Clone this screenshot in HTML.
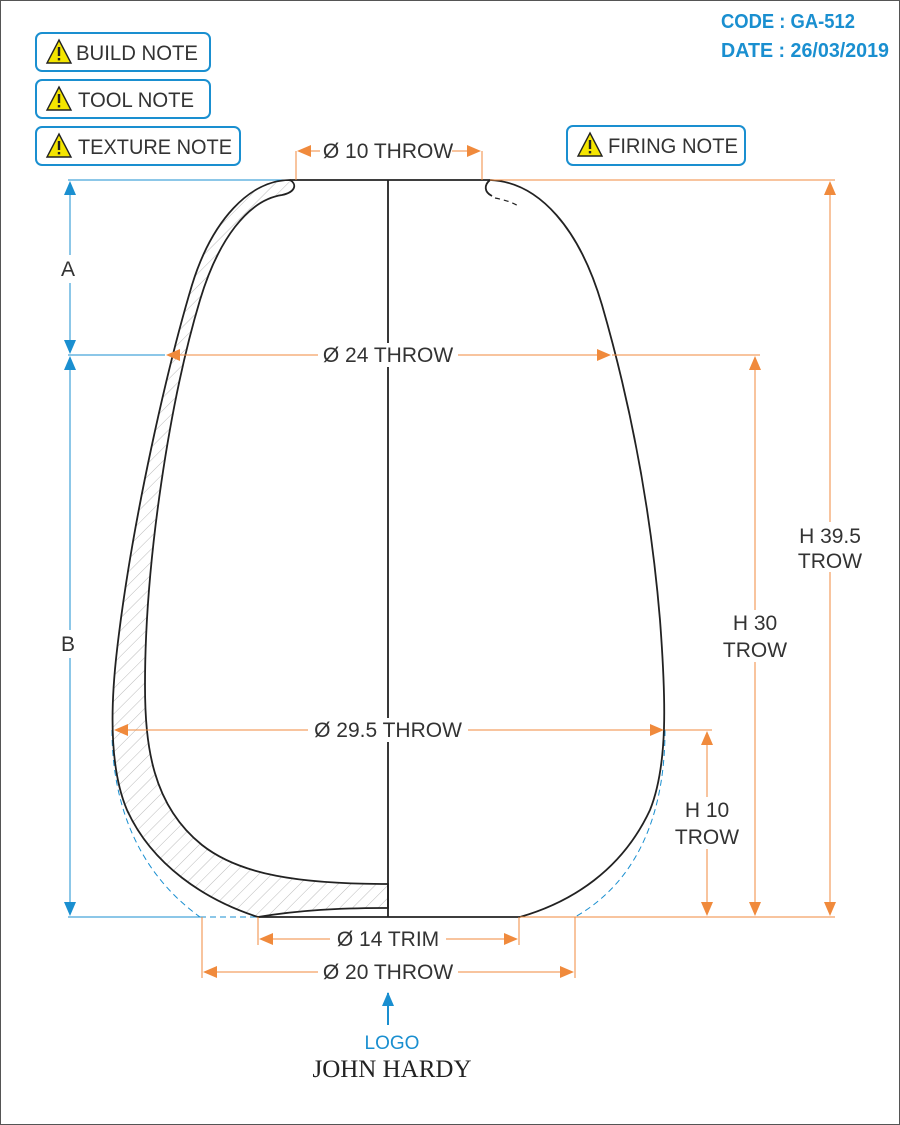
<!DOCTYPE html>
<html><head><meta charset="utf-8"><style>
html,body{margin:0;padding:0;background:#fff}
svg{display:block}
text{font-family:"Liberation Sans",sans-serif}
</style></head><body>
<svg width="900" height="1125" viewBox="0 0 900 1125">
<defs>
<pattern id="hatch" width="9" height="9" patternUnits="userSpaceOnUse" patternTransform="rotate(45)">
<line x1="0" y1="0" x2="0" y2="9" stroke="#aaa" stroke-width="0.8"/>
</pattern>
<marker id="ao" markerWidth="14" markerHeight="12" refX="13" refY="6" orient="auto-start-reverse" markerUnits="userSpaceOnUse"><path d="M0,0 L14,6 L0,12 Z" fill="#f08a3c"/></marker>
<marker id="ab" markerWidth="14" markerHeight="12" refX="13" refY="6" orient="auto-start-reverse" markerUnits="userSpaceOnUse"><path d="M0,0 L14,6 L0,12 Z" fill="#1a8fd0"/></marker>
<g id="warn"><path d="M12,0 L24,23 L0,23 Z" fill="#f4e500" stroke="#222" stroke-width="1.4"/><rect x="10.8" y="7" width="2.4" height="9" fill="#222"/><rect x="10.8" y="18" width="2.4" height="2.4" fill="#222"/></g>
</defs>
<rect x="0.5" y="0.5" width="899" height="1124" fill="#fff" stroke="#555" stroke-width="1"/>

<g fill="#1a8fd0" font-weight="bold" font-size="20">
<text x="721" y="28" textLength="134" lengthAdjust="spacingAndGlyphs">CODE : GA-512</text>
<text x="721" y="57" textLength="168" lengthAdjust="spacingAndGlyphs">DATE : 26/03/2019</text>
</g>

<g font-size="21" fill="#333">
<g><rect x="36" y="33" width="174" height="38" rx="6" fill="#fff" stroke="#1a8fd0" stroke-width="2"/><use href="#warn" x="47" y="40"/><text x="76" y="60" textLength="122" lengthAdjust="spacingAndGlyphs">BUILD NOTE</text></g>
<g><rect x="36" y="80" width="174" height="38" rx="6" fill="#fff" stroke="#1a8fd0" stroke-width="2"/><use href="#warn" x="47" y="87"/><text x="78" y="107" textLength="116" lengthAdjust="spacingAndGlyphs">TOOL NOTE</text></g>
<g><rect x="36" y="127" width="204" height="38" rx="6" fill="#fff" stroke="#1a8fd0" stroke-width="2"/><use href="#warn" x="47" y="134"/><text x="78" y="154" textLength="154" lengthAdjust="spacingAndGlyphs">TEXTURE NOTE</text></g>
<g><rect x="567" y="126" width="178" height="39" rx="6" fill="#fff" stroke="#1a8fd0" stroke-width="2"/><use href="#warn" x="578" y="133"/><text x="608" y="153" textLength="130" lengthAdjust="spacingAndGlyphs">FIRING NOTE</text></g>
</g>

<g stroke="#1a8fd0" stroke-width="1" fill="none">
<line x1="68" y1="180" x2="290" y2="180"/>
<line x1="68" y1="355" x2="165" y2="355"/>
<line x1="68" y1="917" x2="200" y2="917"/>
<line x1="200" y1="917" x2="258" y2="917" stroke-dasharray="6 4"/>
<line x1="520" y1="917" x2="575" y2="917" stroke-dasharray="6 4"/>
<line x1="70" y1="182" x2="70" y2="353" marker-start="url(#ab)" marker-end="url(#ab)"/>
<line x1="70" y1="357" x2="70" y2="915" marker-start="url(#ab)" marker-end="url(#ab)"/>
<path d="M112,730 C112,800 135,870 200,917" stroke-dasharray="6 4"/>
<path d="M665,730 C665,810 640,880 575,917" stroke-dasharray="6 4"/>
</g>
<rect x="58" y="255" width="24" height="28" fill="#fff"/><text x="61" y="276" font-size="21" fill="#333">A</text>
<rect x="58" y="630" width="24" height="28" fill="#fff"/><text x="61" y="651" font-size="21" fill="#333">B</text>

<g stroke="#222" stroke-width="1.8" fill="none">
<path fill="url(#hatch)" d="M290,180 C250,180 212,220 192,285 C168,365 132,520 117,650 C110,710 110,770 127,810 C152,865 205,900 258,917 C300,910 340,908 388,908 L388,884 C300,884 240,875 202,845 C152,805 145,745 145,685 C145,560 170,400 200,300 C218,240 248,200 282,195 C296,192 297,184 290,180 Z"/>
<line x1="388" y1="180" x2="388" y2="917"/>
<line x1="290" y1="180" x2="490" y2="180"/>
<line x1="258" y1="917" x2="520" y2="917"/>
<path d="M490,180 C540,182 580,230 602,305 C628,395 650,500 660,620 C666,700 668,765 650,810 C622,870 572,902 520,917"/>
<path d="M490,180 C484,185 484,192 492,196" />
<path d="M495,198 C505,200 512,202 520,207" stroke-dasharray="5 4" stroke-width="1.2"/>
</g>

<g stroke="#f08a3c" stroke-width="1" fill="none">
<line x1="490" y1="180" x2="835" y2="180"/>
<line x1="520" y1="917" x2="835" y2="917"/>
<line x1="612" y1="355" x2="760" y2="355"/>
<line x1="665" y1="730" x2="712" y2="730"/>
<line x1="830" y1="182" x2="830" y2="915" marker-start="url(#ao)" marker-end="url(#ao)"/>
<line x1="755" y1="357" x2="755" y2="915" marker-start="url(#ao)" marker-end="url(#ao)"/>
<line x1="707" y1="732" x2="707" y2="915" marker-start="url(#ao)" marker-end="url(#ao)"/>
<line x1="296" y1="180" x2="296" y2="151"/><line x1="482" y1="180" x2="482" y2="151"/>
<line x1="298" y1="151" x2="480" y2="151" marker-start="url(#ao)" marker-end="url(#ao)"/>
<line x1="167" y1="355" x2="610" y2="355" marker-start="url(#ao)" marker-end="url(#ao)"/>
<line x1="115" y1="730" x2="663" y2="730" marker-start="url(#ao)" marker-end="url(#ao)"/>
<line x1="258" y1="917" x2="258" y2="945"/><line x1="519" y1="917" x2="519" y2="945"/>
<line x1="260" y1="939" x2="517" y2="939" marker-start="url(#ao)" marker-end="url(#ao)"/>
<line x1="202" y1="917" x2="202" y2="978"/><line x1="575" y1="917" x2="575" y2="978"/>
<line x1="204" y1="972" x2="573" y2="972" marker-start="url(#ao)" marker-end="url(#ao)"/>
</g>

<g font-size="21" fill="#333" text-anchor="middle">
<rect x="320" y="139" width="132" height="24" fill="#fff"/><text x="388" y="158">Ø 10 THROW</text>
<rect x="318" y="343" width="140" height="24" fill="#fff"/><text x="388" y="362">Ø 24 THROW</text>
<rect x="308" y="718" width="160" height="24" fill="#fff"/><text x="388" y="737">Ø 29.5 THROW</text>
<rect x="330" y="927" width="116" height="24" fill="#fff"/><text x="388" y="946">Ø 14 TRIM</text>
<rect x="318" y="960" width="140" height="24" fill="#fff"/><text x="388" y="979">Ø 20 THROW</text>
<rect x="795" y="522" width="70" height="50" fill="#fff"/><text x="830" y="543">H 39.5</text><text x="830" y="568">TROW</text>
<rect x="722" y="610" width="66" height="52" fill="#fff"/><text x="755" y="630">H 30</text><text x="755" y="657">TROW</text>
<rect x="674" y="797" width="66" height="52" fill="#fff"/><text x="707" y="817">H 10</text><text x="707" y="844">TROW</text>
</g>

<line x1="388" y1="1025" x2="388" y2="993" stroke="#1a8fd0" stroke-width="2" marker-end="url(#ab)"/>
<text x="392" y="1049" font-size="19" fill="#1a8fd0" text-anchor="middle">LOGO</text>
<text x="392" y="1077" font-size="25" fill="#222" text-anchor="middle" style="font-family:'Liberation Serif',serif">JOHN HARDY</text>
</svg>
</body></html>
